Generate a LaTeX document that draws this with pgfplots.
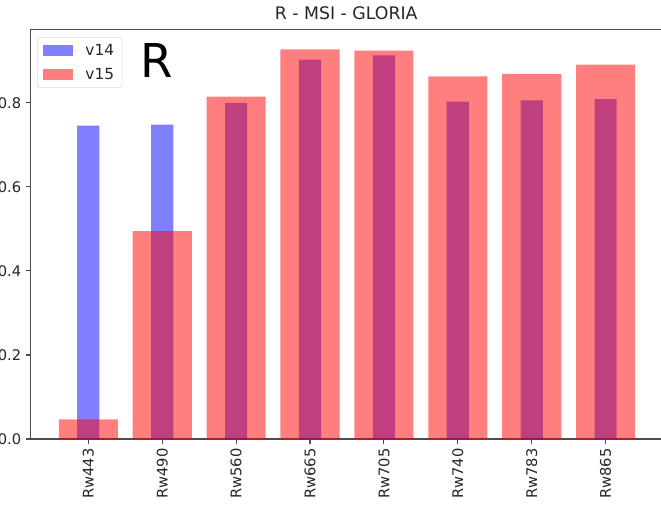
\documentclass[border=0pt]{standalone}
\usepackage{fontspec}
\setmainfont{DejaVu Sans}
\usepackage{pgfplots}
\pgfplotsset{compat=1.18}
\definecolor{mblue}{RGB}{0,0,255}
\definecolor{mred}{RGB}{255,0,0}
\begin{document}
\begin{tikzpicture}
\begin{axis}[
  scale only axis, width=473.5pt, height=307pt,
  xmin=-0.782, xmax=7.76, ymin=0, ymax=0.974,
  xtick={0,1,2,3,4,5,6,7},
  xticklabels={Rw443,Rw490,Rw560,Rw665,Rw705,Rw740,Rw783,Rw865},
  ytick={0,0.2,0.4,0.6,0.8},
  xtick pos=bottom, ytick pos=left,
  tick align=outside, major tick length=3.5pt,
  /pgf/number format/assume math mode=true,
  yticklabel style={/pgf/number format/.cd, fixed, fixed zerofill, precision=1},
  ticklabel style={font=\fontsize{11}{13}\selectfont, text=black!85},
  xticklabel style={rotate=90, anchor=east},
  axis line style={black!70, line width=0.8pt},
  tick style={black!70, line width=0.8pt},
  title={R - MSI - GLORIA},
  title style={font=\fontsize{13}{15}\selectfont, anchor=base, at={(0.5,1)}, yshift=1.3pt, text=black!85},
  legend style={at={(0,1)}, anchor=north west, xshift=5pt, yshift=-5.5pt,
    draw=black!15, rounded corners=2pt, fill=white, fill opacity=0.8, text opacity=1,
    font=\fontsize{11.5}{13}\selectfont, text=black!85, inner xsep=4pt, inner ysep=3pt,
    row sep=4pt},
  legend cell align=left,
  legend image code/.code={\fill[#1, sharp corners] (0pt,-4.1pt) rectangle (22.5pt,4.1pt); \path (0pt,0pt) -- (30pt,0pt);},
]
\addplot[ybar, bar width=0.3, bar shift=0pt, fill=mblue, fill opacity=0.5, draw=none]
  coordinates {(0,0.746) (1,0.748) (2,0.800) (3,0.903) (4,0.913) (5,0.803) (6,0.806) (7,0.809)};
\addlegendentry{v14}
\addplot[ybar, bar width=0.8, bar shift=0pt, fill=mred, fill opacity=0.5, draw=none]
  coordinates {(0,0.047) (1,0.495) (2,0.815) (3,0.927) (4,0.924) (5,0.863) (6,0.869) (7,0.891)};
\addlegendentry{v15}
\node[anchor=base west, font=\fontsize{35}{40}\selectfont, inner sep=0pt] at (axis cs:0.70,0.861) {R};
\coordinate (SW) at (rel axis cs:0,0);
\coordinate (NW) at (rel axis cs:0,1);
\end{axis}
\pgfresetboundingbox
\path[use as bounding box] ([shift={(-22.9pt,-51.75pt)}]SW) rectangle ([shift={(472.9pt,22.3pt)}]NW);
\end{tikzpicture}
\end{document}
